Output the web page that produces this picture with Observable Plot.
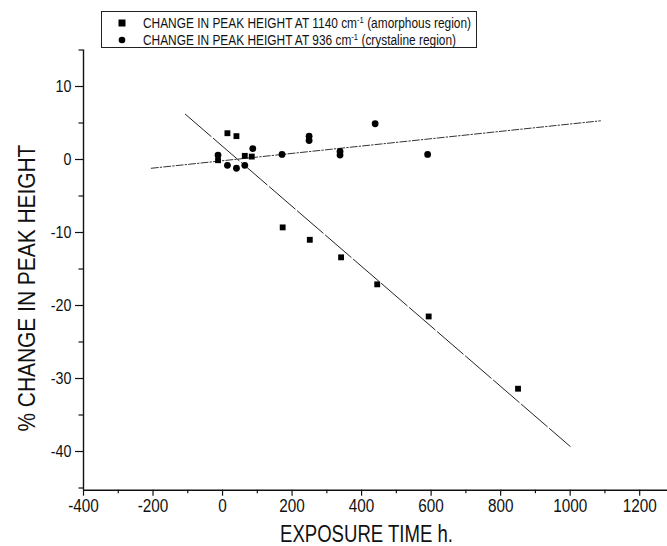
<!DOCTYPE html>
<html>
<head>
<meta charset="utf-8">
<script src="https://cdn.jsdelivr.net/npm/d3@7"></script>
<script src="https://cdn.jsdelivr.net/npm/@observablehq/plot@0.6"></script>
<style>
  html, body { margin: 0; padding: 0; background: #fff; }
  #wrap { position: relative; width: 667px; height: 546px; font-family: "Liberation Sans", Arial, sans-serif; }
  #legend { position: absolute; left: 101px; top: 11px; width: 376px; height: 37px; border: 1px solid #222; box-sizing: border-box; font-size: 14px; color: #111; }
  .row { position: absolute; left: 0; height: 16px; line-height: 16px; white-space: nowrap; width: 370px; }
  .row .txt { position: absolute; left: 41px; top: 0; transform-origin: 0 50%; display: inline-block; }
  .row svg { position: absolute; left: 16px; top: 4px; }
  sup { font-size: 9px; vertical-align: 5px; line-height: 0; }
</style>
</head>
<body>
<div id="wrap"></div>
<script>
// Series: amorphous region (1140 cm-1), squares
const amorphousTime = [-13, 14, 40, 64, 84, 173, 251, 341, 445, 593, 850];
const amorphousChange = [-0.1, 3.6, 3.2, 0.5, 0.4, -9.3, -11.0, -13.4, -17.1, -21.5, -31.4];
// Series: crystalline region (936 cm-1), circles
const crystallineTime = [-13, 14, 40, 64, 87, 171, 249, 249, 338, 338, 439, 590];
const crystallineChange = [0.6, -0.8, -1.2, -0.8, 1.5, 0.7, 2.6, 3.2, 0.6, 1.1, 4.9, 0.7];
// Fitted lines (end points)
const amorphousFitTime = [-107, 1000];
const amorphousFitChange = [6.2, -39.3];
const crystallineFitTime = [-205, 1087];
const crystallineFitChange = [-1.2, 5.3];
// Axes
const xTicks = [-400, -200, 0, 200, 400, 600, 800, 1000, 1200];
const xMinor = [-300, -100, 100, 300, 500, 700, 900, 1100];
const yTicks = [-40, -30, -20, -10, 0, 10];
const yMinor = [-45, -35, -25, -15, -5, 5, 15];
const xDomain = [-400, 1280];
const yDomain = [-45.3, 15];
const xTitle = "EXPOSURE TIME h.";
const yTitle = "% CHANGE IN PEAK HEIGHT";
const legendLabels = [
  ["CHANGE IN PEAK HEIGHT AT 1140 cm", "-1", " (amorphous region)"],
  ["CHANGE IN PEAK HEIGHT AT 936 cm", "-1", "  (crystaline region)"]
];

const am = amorphousTime.map((t, i) => ({t, v: amorphousChange[i]}));
const cr = crystallineTime.map((t, i) => ({t, v: crystallineChange[i]}));
const amFit = amorphousFitTime.map((t, i) => ({t, v: amorphousFitChange[i]}));
const crFit = crystallineFitTime.map((t, i) => ({t, v: crystallineFitChange[i]}));

const FONT = '"Liberation Sans", Arial, sans-serif';

const chart = Plot.plot({
  width: 667,
  height: 546,
  marginLeft: 83,
  marginRight: 0,
  marginTop: 49.5,
  marginBottom: 56.3,
  style: {fontFamily: FONT, background: "white", color: "#111"},
  x: {domain: xDomain},
  y: {domain: yDomain},
  marks: [
    Plot.line(crFit, {x: "t", y: "v", stroke: "#333", strokeWidth: 1, strokeDasharray: "7,2,1.5,2"}),
    Plot.line(amFit, {x: "t", y: "v", stroke: "#222", strokeWidth: 1, strokeDasharray: "34,3"}),
    Plot.dot(cr, {x: "t", y: "v", r: 3.4, fill: "#000", stroke: "none"}),
    Plot.dot(am, {x: "t", y: "v", symbol: "square", r: 3.3, fill: "#000", stroke: "none"}),
    Plot.axisX({ticks: xTicks, tickSize: 6, tickPadding: 3, fontSize: 18, label: null, tickFormat: d => String(d), strokeWidth: 1.2}),
    Plot.axisX({ticks: xMinor, tickSize: 3.5, text: null, label: null, strokeWidth: 1.2}),
    Plot.axisY({ticks: yTicks, tickSize: 8, tickPadding: 4, fontSize: 17, label: null, tickFormat: d => String(d), strokeWidth: 1.2}),
    Plot.axisY({ticks: yMinor, tickSize: 4.5, text: null, label: null, strokeWidth: 1.2}),
    Plot.ruleX([xDomain[0]], {stroke: "#111", strokeWidth: 1.4}),
    Plot.ruleY([yDomain[0]], {stroke: "#111", strokeWidth: 1.4}),
    Plot.text([xTitle], {frameAnchor: "bottom", dx: -9, dy: 52, fontSize: 23, fill: "#111"}),
    Plot.text([yTitle], {frameAnchor: "left", textAnchor: "middle", dx: -56, dy: 18, rotate: -90, fontSize: 23, fill: "#111"})
  ]
});

const wrap = document.getElementById("wrap");
wrap.appendChild(chart);

// narrow the lettering like the reference's condensed typeface
chart.querySelectorAll('g[aria-label="x-axis tick label"] text').forEach(t => {
  t.setAttribute("textLength", t.getComputedTextLength() * 0.85);
  t.setAttribute("lengthAdjust", "spacingAndGlyphs");
});
chart.querySelectorAll('g[aria-label="y-axis tick label"] text').forEach(t => {
  t.setAttribute("textLength", t.getComputedTextLength() * 0.84);
  t.setAttribute("lengthAdjust", "spacingAndGlyphs");
});
chart.querySelectorAll('g[aria-label="text"] text').forEach(t => {
  const s = t.textContent;
  const target = s === xTitle ? 173 : s === yTitle ? 287 : null;
  if (target) {
    t.setAttribute("textLength", target);
    t.setAttribute("lengthAdjust", "spacingAndGlyphs");
  }
});

const legend = document.createElement("div");
legend.id = "legend";
const sym = [
  '<svg width="8" height="8"><rect x="0.5" y="0.5" width="7" height="7" fill="#000"/></svg>',
  '<svg width="8" height="8"><circle cx="4" cy="4" r="3.3" fill="#000"/></svg>'
];
const rows = [];
legendLabels.forEach((parts, i) => {
  const row = document.createElement("div");
  row.className = "row";
  row.style.top = (i === 0 ? 3 : 20) + "px";
  row.innerHTML = sym[i] + '<span class="txt">' + parts[0] + '<sup>' + parts[1] + '</sup>' + parts[2] + '</span>';
  legend.appendChild(row);
  rows.push(row.querySelector(".txt"));
});
wrap.appendChild(legend);
const w0 = rows[0].getBoundingClientRect().width;
const k = 328 / w0;
rows.forEach(r => { r.style.transform = "scaleX(" + k + ")"; });
</script>
</body>
</html>
